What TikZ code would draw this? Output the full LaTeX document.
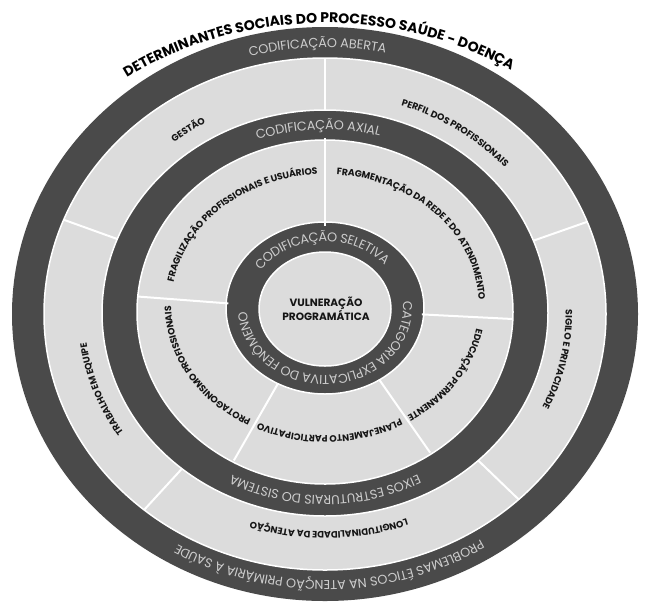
\documentclass[tikz,border=0pt]{standalone}
\usepackage{fontspec}
\newfontfamily\popfam{Poppins}
\usetikzlibrary{decorations.text}
\definecolor{ringdark}{HTML}{4A4A4A}
\definecolor{ringlight}{HTML}{DCDCDC}
\definecolor{ringtext}{HTML}{CDCDCD}
\definecolor{labeltext}{HTML}{151515}
\newcommand\ttlfont{\popfam\bfseries\fontsize{14}{16}\selectfont}
\newcommand\hdfont{\popfam\fontsize{12.8}{14}\selectfont}
\newcommand\lbfont{\popfam\bfseries\fontsize{9.3}{11}\selectfont}
\newcommand\ctrfont{\popfam\bfseries\fontsize{10.6}{12}\selectfont}
\tikzset{
  ringfill/.style={fill=#1, draw=white, line width=1.5pt},
  divider/.style={draw=white, line width=2pt},
  titletxt/.style={decorate, decoration={text along path, text align=center, text color=black, raise=0pt, text={|\ttlfont|#1}}},
  headtxt/.style={decorate, decoration={text along path, text align=center, text color=ringtext, raise=-4.4pt, text={|\hdfont|#1}}},
  labeltxt/.style={decorate, decoration={text along path, text align=center, text color=labeltext, raise=-3.3pt, text={|\lbfont|#1}}}
}
\begin{document}
\begin{tikzpicture}[x=1pt, y=1pt]
\useasboundingbox (0,0) rectangle (650,-606);
\fill[white] (0,0) rectangle (650,-606);
% rings
\fill[ringdark] (325,-314) ellipse [x radius=313pt, y radius=287pt];
\path[ringfill=ringlight] (325,-314) ellipse [x radius=281pt, y radius=256pt];
\path[ringfill=ringdark] (325,-313) ellipse [x radius=223pt, y radius=203pt];
\path[ringfill=ringlight] (325,-312) ellipse [x radius=188pt, y radius=172pt];
\path[ringfill=ringdark] (325,-308) ellipse [x radius=99pt, y radius=86pt];
\path[ringfill=ringlight] (325,-309) ellipse [x radius=66pt, y radius=57pt];
% dividers outer light ring
\begin{scope}[shift={(325,-313.5)}]
\foreach \t in {90,21,-46.5,230,158.5}
  \draw[divider] (\t:223pt and 203pt) -- (\t:281pt and 256pt);
\end{scope}
% dividers middle light ring
\begin{scope}[shift={(325,-310)}]
\foreach \t in {90,-3,175.5,241,-56}
  \draw[divider] (\t:97pt and 84pt) -- (\t:188pt and 172pt);
\end{scope}
% title
\path[titletxt={DETERMINANTES  SOCIAIS DO PROCESSO SAÚDE - DOENÇA}, shift={(325,-314)}]
  (151.3:340pt and 291pt) arc[start angle=151.3, end angle=31.3, x radius=340pt, y radius=291pt];
% outer dark ring headings
\path[headtxt={CODIFICAÇÃO ABERTA}, shift={(325,-314)}]
  (121.5:297pt and 271pt) arc[start angle=121.5, end angle=61.5, x radius=297pt, y radius=271pt];
\path[headtxt={PROBLEMAS ÉTICOS NA ATENÇÃO PRIMÁRIA À SAÚDE}, shift={(325,-314)}]
  (-29:297pt and 271pt) arc[start angle=-29, end angle=-149, x radius=297pt, y radius=271pt];
% axial ring headings
\path[headtxt={CODIFICAÇÃO AXIAL}, shift={(325,-312.5)}]
  (137:205.5pt and 187.5pt) arc[start angle=137, end angle=47, x radius=205.5pt, y radius=187.5pt];
\path[headtxt={EIXOS ESTRUTURAIS DO SISTEMA}, shift={(325,-312.5)}]
  (-20:205.5pt and 187.5pt) arc[start angle=-20, end angle=-160, x radius=205.5pt, y radius=187.5pt];
% selective ring headings
\path[headtxt={CODIFICAÇÃO SELETIVA}, shift={(325,-308.5)}]
  (183:82.5pt and 71.5pt) arc[start angle=183, end angle=3, x radius=82.5pt, y radius=71.5pt];
\path[headtxt={CATEGORIA EXPLICATIVA DO FENÔMENO}, shift={(325,-308.5)}]
  (44:82.5pt and 71.5pt) arc[start angle=44, end angle=-216, x radius=82.5pt, y radius=71.5pt];
% outer light ring labels
\begin{scope}[shift={(325,-313)}]
\path[labeltxt={GESTÃO}] (160:244pt and 222pt) arc[start angle=160, end angle=90, x radius=244pt, y radius=222pt];
\path[labeltxt={PERFIL DOS PROFISSIONAIS}] (91:244pt and 222pt) arc[start angle=91, end angle=21, x radius=244pt, y radius=222pt];
\path[labeltxt={SIGILO E PRIVACIDADE}] (23:244pt and 222pt) arc[start angle=23, end angle=-47, x radius=244pt, y radius=222pt];
\path[labeltxt={LONGITUDINALIDADE DA ATENÇÃO}] (-44:244pt and 222pt) arc[start angle=-44, end angle=-134, x radius=244pt, y radius=222pt];
\path[labeltxt={TRABALHO EM EQUIPE}] (235:244pt and 222pt) arc[start angle=235, end angle=165, x radius=244pt, y radius=222pt];
\end{scope}
% middle light ring labels
\begin{scope}[shift={(325,-305)}]
\path[labeltxt={FRAGILIZAÇÃO PROFISSIONAIS E USUÁRIOS}] (193:157pt and 134pt) arc[start angle=193, end angle=73, x radius=157pt, y radius=134pt];
\path[labeltxt={FRAGMENTAÇÃO DA REDE E DO ATENDIMENTO}] (102.5:157pt and 134pt) arc[start angle=102.5, end angle=-17.5, x radius=157pt, y radius=134pt];
\path[labeltxt={EDUCAÇÃO PERMANENTE}] (7:157pt and 134pt) arc[start angle=7, end angle=-73, x radius=157pt, y radius=134pt];
\path[labeltxt={PLANEJAMENTO PARTICIPATIVO}] (-43:157pt and 134pt) arc[start angle=-43, end angle=-133, x radius=157pt, y radius=134pt];
\path[labeltxt={PROTAGONISMO PROFISSIONAIS}] (255:157pt and 134pt) arc[start angle=255, end angle=165, x radius=157pt, y radius=134pt];
\end{scope}
% centre
\node[align=center, font=\ctrfont, text=labeltext, inner sep=0pt] (centre) at (326,-309) {VULNERAÇÃO\\PROGRAMÁTICA};
\end{tikzpicture}
\end{document}
